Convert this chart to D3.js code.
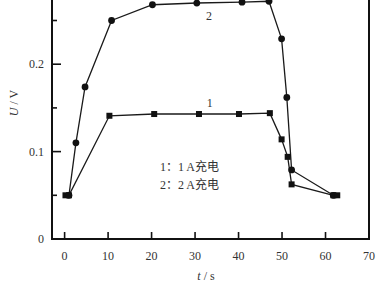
<!DOCTYPE html>
<html>
<head>
<meta charset="utf-8">
<script src="https://cdn.jsdelivr.net/npm/d3@7"></script>
<style>
  body { margin: 0; background: #fff; }
  text { font-family: "Liberation Serif", "DejaVu Serif", serif; fill: #333; }
</style>
</head>
<body>
<div id="chart"></div>
<script>
// series 1: 1 A charging (squares)
const t1 = [0.2, 1.0, 10.3, 20.6, 30.9, 40.1, 47.2, 49.9, 51.3, 52.2, 61.8, 62.7];
const u1 = [0.05, 0.05, 0.141, 0.143, 0.143, 0.143, 0.144, 0.114, 0.094, 0.0625, 0.05, 0.05];
// series 2: 2 A charging (circles)
const t2 = [1.0, 2.6, 4.7, 10.8, 20.2, 30.4, 40.8, 47.0, 49.9, 51.1, 52.2, 61.8];
const u2 = [0.05, 0.11, 0.174, 0.25, 0.268, 0.27, 0.271, 0.272, 0.229, 0.162, 0.079, 0.05];
const xTicks = [0, 10, 20, 30, 40, 50, 60, 70];
const yTicks = [0, 0.1, 0.2];
const yMinor = [0.05, 0.15, 0.25];
const legendLines = ["1：1 A充电", "2：2 A充电"];

const width = 380, height = 282;
const left = 52, right = 369, bottom = 239;

const svg = d3.select("#chart").append("svg")
  .attr("width", width)
  .attr("height", height);

const x = d3.scaleLinear().domain([-2.9, 70]).range([left, right]);
const y = d3.scaleLinear().domain([0, 0.3]).range([bottom, bottom - 0.3 * 874]);

const s1 = t1.map((t, i) => [t, u1[i]]);
const s2 = t2.map((t, i) => [t, u2[i]]);

// frame
svg.append("rect")
  .attr("x", left).attr("y", y(0.3))
  .attr("width", right - left).attr("height", bottom - y(0.3))
  .attr("fill", "none").attr("stroke", "#111").attr("stroke-width", 2);

// x ticks (inward)
svg.selectAll(".xt").data(xTicks).enter().append("line")
  .attr("x1", d => x(d)).attr("x2", d => x(d))
  .attr("y1", bottom).attr("y2", bottom - 7)
  .attr("stroke", "#111").attr("stroke-width", 1.6);

svg.selectAll(".xl").data(xTicks).enter().append("text")
  .attr("x", d => x(d)).attr("y", 260)
  .attr("text-anchor", "middle").attr("font-size", 12)
  .text(d => d);

// y ticks
svg.selectAll(".yt").data(yTicks.filter(d => d > 0)).enter().append("line")
  .attr("x1", left).attr("x2", left + 9)
  .attr("y1", d => y(d)).attr("y2", d => y(d))
  .attr("stroke", "#111").attr("stroke-width", 1.6);
svg.selectAll(".ym").data(yMinor).enter().append("line")
  .attr("x1", left).attr("x2", left + 5)
  .attr("y1", d => y(d)).attr("y2", d => y(d))
  .attr("stroke", "#111").attr("stroke-width", 1.6);

svg.selectAll(".yl").data(yTicks).enter().append("text")
  .attr("x", 44).attr("y", d => y(d) + 4)
  .attr("text-anchor", "end").attr("font-size", 12)
  .text(d => d === 0 ? "0" : d3.format(".1f")(d));

// axis titles
const yt = svg.append("text")
  .attr("transform", "translate(18,103) rotate(-90)")
  .attr("text-anchor", "middle").attr("font-size", 12);
yt.append("tspan").attr("font-style", "italic").text("U");
yt.append("tspan").text(" / V");

const xt = svg.append("text")
  .attr("x", 206).attr("y", 280)
  .attr("text-anchor", "middle").attr("font-size", 12);
xt.append("tspan").attr("font-style", "italic").text("t");
xt.append("tspan").text(" / s");

// lines
const line = d3.line().x(d => x(d[0])).y(d => y(d[1]));
[s2, s1].forEach(s => {
  svg.append("path").datum(s)
    .attr("d", line)
    .attr("fill", "none").attr("stroke", "#1a1a1a").attr("stroke-width", 1.3);
});

svg.selectAll(".c").data(s2).enter().append("circle")
  .attr("cx", d => x(d[0])).attr("cy", d => y(d[1]))
  .attr("r", 3.4).attr("fill", "#111");

svg.selectAll(".sq").data(s1).enter().append("rect")
  .attr("x", d => x(d[0]) - 3).attr("y", d => y(d[1]) - 3)
  .attr("width", 6).attr("height", 6).attr("fill", "#111");

// curve labels
svg.append("text").attr("x", x(33.2)).attr("y", 20)
  .attr("text-anchor", "middle").attr("font-size", 12).text("2");
svg.append("text").attr("x", x(33.4)).attr("y", 107)
  .attr("text-anchor", "middle").attr("font-size", 12).text("1");

// legend text
svg.selectAll(".lg").data(legendLines).enter().append("text")
  .attr("x", 160).attr("y", (d, i) => 171 + i * 18)
  .attr("font-size", 12)
  .style("font-family", "'Liberation Serif', 'Noto Sans CJK SC', serif")
  .text(d => d);
</script>
</body>
</html>
